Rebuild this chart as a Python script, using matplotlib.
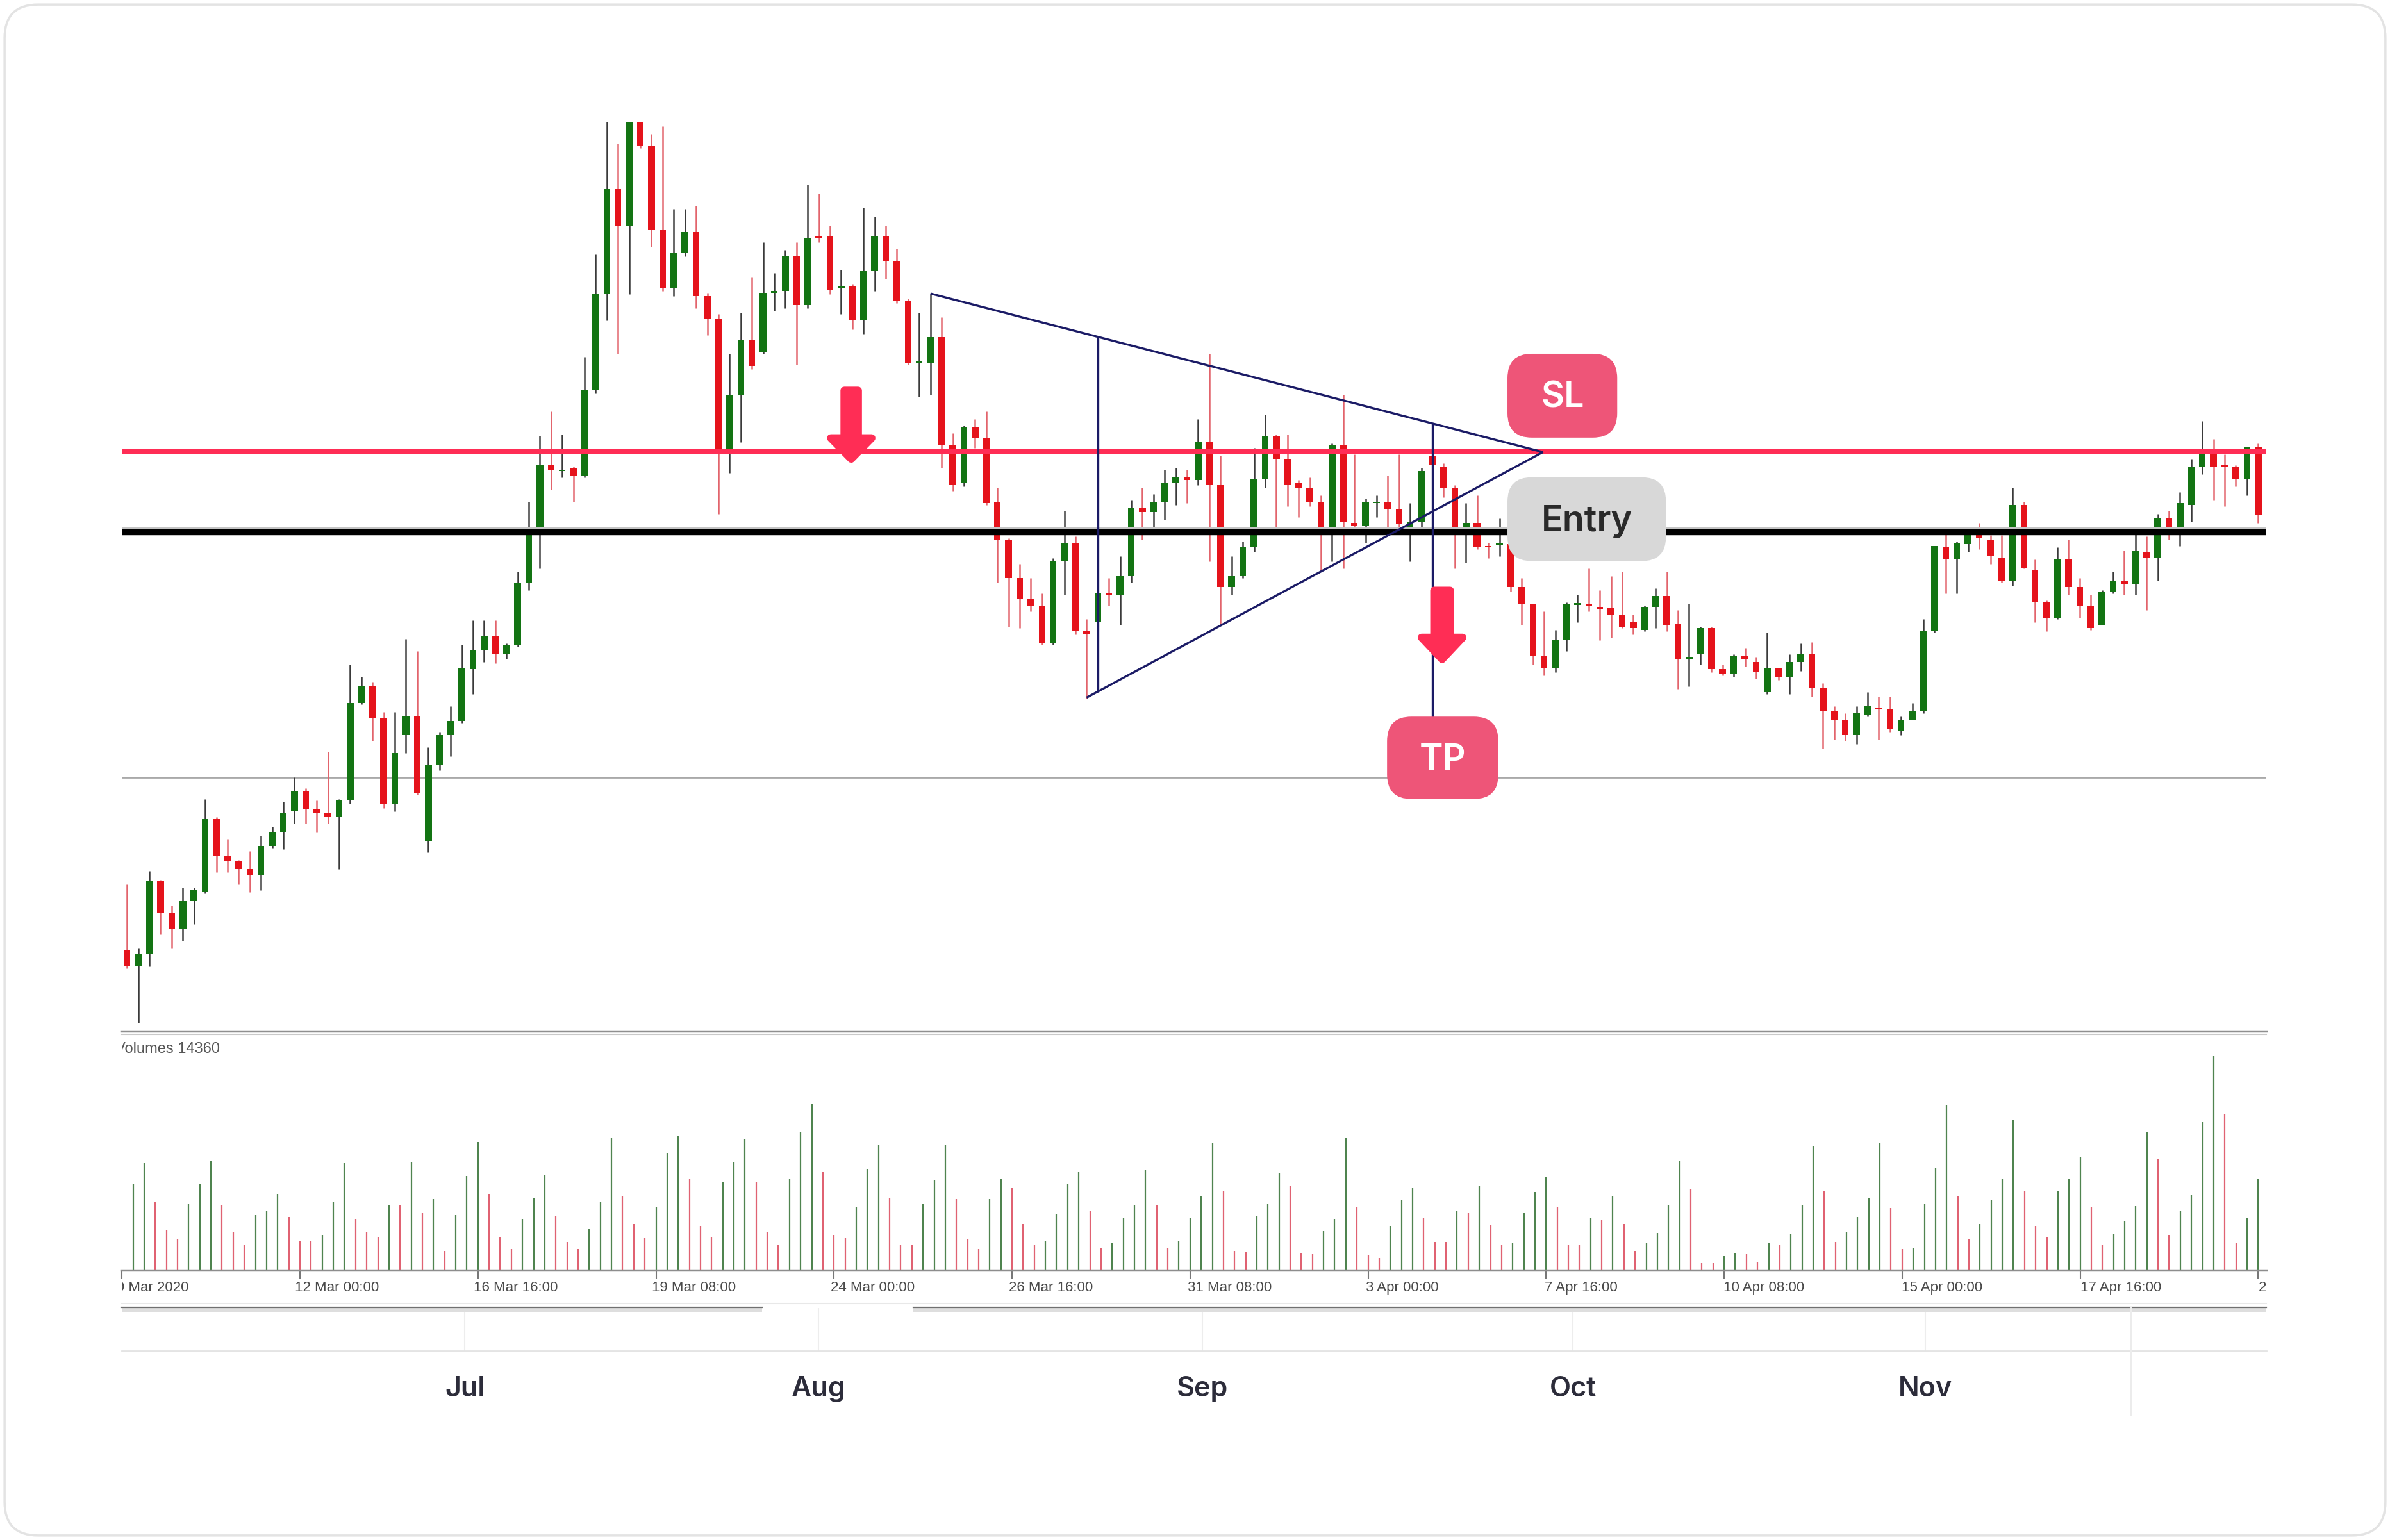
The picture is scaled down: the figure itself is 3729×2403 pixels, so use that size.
import numpy as np
import matplotlib.pyplot as plt
from matplotlib.patches import FancyBboxPatch, Polygon

plt.rcParams['font.family'] = ['Inter', 'DejaVu Sans']

# 4h candles, prices in points (chart has no price scale)
opens = [
    77, 66, 74, 122, 101, 91, 109, 115, 163, 139, 135, 130, 126, 145, 154, 168,
    181, 169, 167, 164, 175, 239, 250, 229, 173, 218, 230, 148, 198, 218, 227, 261,
    274, 283, 271, 277, 318, 353, 395, 391, 393, 388, 444, 507, 576, 552, 628, 604,
    549, 511, 534, 548, 506, 491, 404, 441, 477, 469, 508, 509, 532, 500, 545, 545,
    511, 512, 490, 522, 545, 529, 503, 462, 462, 479, 408, 383, 420, 413, 371, 346,
    321, 307, 303, 278, 332, 344, 286, 292, 311, 310, 322, 367, 364, 371, 383, 387,
    385, 410, 382, 315, 322, 341, 386, 414, 399, 383, 380, 371, 353, 408, 357, 355,
    370, 371, 366, 353, 358, 401, 394, 380, 353, 357, 342, 343, 343, 315, 304, 270,
    262, 280, 304, 304, 302, 301, 297, 292, 287, 302, 309, 291, 268, 271, 288, 261,
    258, 270, 266, 246, 262, 256, 266, 271, 249, 234, 228, 218, 231, 236, 235, 221,
    228, 234, 286, 341, 333, 343, 349, 346, 334, 319, 369, 326, 305, 295, 333, 315,
    303, 290, 312, 319, 317, 338, 334, 360, 353, 369, 394, 405, 395, 394, 386, 407,
]
highs = [
    120, 78, 129, 123, 106, 118, 118, 176, 164, 150, 136, 142, 152, 158, 174, 190,
    183, 175, 207, 176, 264, 256, 253, 233, 233, 281, 273, 210, 220, 237, 277, 293,
    293, 293, 278, 325, 371, 414, 430, 415, 394, 466, 533, 620, 606, 630, 630, 612,
    617, 563, 563, 565, 508, 494, 468, 495, 518, 541, 521, 536, 541, 579, 573, 552,
    523, 514, 564, 558, 552, 537, 504, 495, 507, 492, 416, 421, 425, 430, 380, 347,
    330, 321, 311, 334, 365, 348, 294, 312, 321, 335, 372, 380, 376, 392, 393, 392,
    425, 468, 401, 335, 345, 406, 428, 415, 415, 385, 387, 375, 409, 441, 402, 373,
    375, 388, 402, 370, 393, 401, 396, 382, 370, 375, 344, 360, 345, 321, 304, 299,
    287, 305, 310, 327, 313, 322, 325, 297, 303, 314, 325, 300, 304, 289, 289, 264,
    271, 275, 269, 285, 262, 271, 278, 279, 252, 237, 232, 237, 246, 243, 243, 230,
    239, 294, 342, 354, 345, 353, 357, 349, 349, 380, 371, 333, 306, 341, 346, 321,
    310, 313, 325, 339, 354, 348, 363, 365, 377, 399, 424, 412, 402, 395, 407, 409,
]
lows = [
    65, 29, 66, 87, 78, 83, 94, 114, 128, 128, 120, 115, 116, 144, 143, 160,
    160, 154, 160, 130, 173, 238, 214, 170, 168, 206, 179, 141, 195, 204, 226, 245,
    266, 265, 268, 276, 313, 327, 379, 387, 371, 387, 442, 490, 468, 507, 603, 538,
    509, 506, 532, 498, 480, 363, 390, 410, 458, 468, 496, 498, 461, 498, 541, 507,
    494, 484, 481, 509, 517, 501, 461, 440, 441, 393, 378, 381, 406, 369, 318, 289,
    288, 299, 277, 277, 310, 284, 242, 290, 303, 290, 318, 346, 352, 359, 369, 370,
    382, 332, 291, 310, 321, 338, 380, 353, 368, 361, 368, 325, 332, 327, 353, 344,
    361, 353, 353, 332, 353, 393, 374, 327, 331, 340, 334, 335, 312, 290, 264, 257,
    259, 273, 292, 299, 280, 282, 288, 284, 286, 288, 286, 248, 250, 264, 259, 257,
    256, 263, 255, 245, 254, 245, 260, 243, 209, 215, 214, 212, 230, 215, 220, 218,
    228, 232, 285, 311, 311, 338, 340, 330, 318, 316, 327, 292, 286, 294, 310, 295,
    287, 290, 311, 310, 310, 300, 319, 346, 342, 358, 389, 372, 368, 381, 375, 357,
]
closes = [
    66, 74, 122, 101, 91, 109, 116, 163, 139, 135, 130, 126, 145, 154, 167, 181,
    169, 167, 164, 175, 239, 250, 229, 173, 206, 230, 180, 198, 218, 227, 262, 274,
    283, 271, 277, 318, 353, 395, 392, 392, 388, 444, 507, 576, 552, 620, 604, 549,
    511, 534, 548, 506, 491, 404, 441, 477, 460, 508, 509, 532, 500, 544, 544, 510,
    512, 490, 522, 545, 529, 503, 462, 463, 479, 408, 382, 420, 413, 370, 346, 321,
    307, 303, 278, 332, 344, 286, 284, 311, 310, 322, 367, 364, 371, 383, 387, 385,
    410, 382, 315, 322, 341, 386, 414, 399, 382, 380, 371, 353, 408, 358, 355, 371,
    371, 366, 356, 358, 391, 395, 380, 353, 357, 341, 341, 344, 315, 304, 270, 262,
    280, 304, 304, 303, 301, 297, 289, 288, 302, 309, 290, 268, 269, 288, 261, 258,
    270, 268, 259, 262, 256, 266, 271, 249, 234, 228, 218, 232, 237, 235, 222, 228,
    234, 286, 342, 333, 344, 349, 347, 335, 319, 369, 327, 305, 295, 333, 315, 303,
    288, 312, 319, 317, 339, 334, 360, 353, 370, 394, 405, 394, 394, 386, 407, 362,
]
volumes = [
    5690, 7010, 4470, 2600, 2030, 4380, 5640, 7190, 4250, 2500, 1660, 3630, 3910, 5000, 3500, 1940,
    1940, 2310, 4430, 7010, 3350, 2500, 2180, 4280, 4250, 7100, 3720, 4660, 1240, 3630, 6160, 8410,
    5000, 2180, 1370, 3350, 4700, 6250, 3530, 1840, 1370, 2740, 4430, 8640, 4850, 3010, 2130, 4100,
    7700, 8790, 6010, 2880, 2180, 5790, 7100, 8600, 5790, 2500, 1660, 6010, 9070, 10890, 6440, 2310,
    2130, 4130, 6630, 8190, 4700, 1660, 1660, 4320, 5880, 8190, 4660, 2030, 1370, 4660, 5970, 5410,
    3010, 1660, 1940, 3680, 5690, 6440, 3910, 1470, 1810, 3380, 4250, 6540, 4250, 1470, 1880, 3380,
    4850, 8320, 5220, 1240, 1180, 3530, 4380, 6390, 5560, 1130, 1050, 2560, 3350, 8640, 4100, 1000,
    810, 2880, 4570, 5370, 3380, 1840, 1840, 3910, 3720, 5500, 2930, 1660, 1810, 3760, 5130, 6120,
    4100, 1660, 1660, 3380, 3310, 4850, 3010, 1240, 1750, 2440, 4250, 7140, 5320, 440, 440, 940,
    1130, 1090, 540, 1750, 1690, 2370, 4250, 8130, 5220, 1840, 2500, 3500, 4750, 8320, 4060, 1370,
    1470, 4320, 6690, 10820, 4850, 2030, 3010, 4570, 5970, 9820, 5220, 2880, 2180, 5220, 5970, 7440,
    4130, 1660, 2370, 3200, 4190, 9070, 7290, 2310, 3910, 4940, 9760, 14080, 10250, 1750, 3440, 5970,
]

sl_level = 404
entry_level = 351
support_level = 190

# triangle drawn on the chart (candle index, price)
tri_upper_x = [72.0, 126.9]
tri_upper_y = [507.5, 403.5]
tri_lower_x = [86.0, 126.9]
tri_lower_y = [242.5, 403.5]
tri_left_x, tri_left_y = [87.0, 87.0], [246, 479]
tri_right_x, tri_right_y = [117.0, 117.0], [200, 422]

time_ticks = [-1, 15, 31, 47, 63, 79, 95, 111, 127, 143, 159, 175, 191]
time_labels = ['9 Mar 2020', '12 Mar 00:00', '16 Mar 16:00', '19 Mar 08:00',
               '24 Mar 00:00', '26 Mar 16:00', '31 Mar 08:00', '3 Apr 00:00',
               '7 Apr 16:00', '10 Apr 08:00', '15 Apr 00:00', '17 Apr 16:00',
               '22 Apr 08:00']

months = ['Jul', 'Aug', 'Sep', 'Oct', 'Nov']
month_pos = [305, 537, 789, 1032, 1263]

GREEN = '#137413'
RED = '#e5131b'
PINK = '#ff2d55'
NAVY = '#1b1b66'

o = np.array(opens, float)
h = np.array(highs, float)
l = np.array(lows, float)
c = np.array(closes, float)
x = np.arange(len(o))
up = c >= o

W, H = 1568, 1010
fig = plt.figure(figsize=(37.29, 24.03), dpi=100)
fig.patch.set_facecolor('white')


def rect(x0, y0, x1, y1):
    return [x0 / W, 1 - y1 / H, (x1 - x0) / W, (y1 - y0) / H]


xlims = (-0.46, 191.75)

# ---- price panel
ax = fig.add_axes(rect(80, 80, 1487, 676))
ax.set_xlim(*xlims)
ax.set_ylim(24, 620)
ax.axis('off')

ax.vlines(x, l, h, colors=np.where(up, '#3a3a3a', '#e2646c'), lw=1.8, zorder=2)
body = np.abs(c - o)
hgt = np.maximum(body, 1.2)
bot = np.minimum(o, c) - (hgt - body) / 2
ax.bar(x, hgt, 0.6, bot, color=np.where(up, GREEN, RED), linewidth=0, zorder=3)

ax.axhline(support_level, color='#a9a9a9', lw=2, zorder=1)
ax.axhline(entry_level + 2.6, color='#c4c4c4', lw=1.5, zorder=4)
ax.axhline(entry_level, color='black', lw=6.8, zorder=5)
ax.axhline(sl_level, color=PINK, lw=6.2, zorder=5)

for xs, ys in [(tri_upper_x, tri_upper_y), (tri_lower_x, tri_lower_y),
               (tri_left_x, tri_left_y), (tri_right_x, tri_right_y)]:
    ax.plot(xs, ys, color=NAVY, lw=2.4, zorder=6, solid_capstyle='butt')


def down_arrow(cx, top, base, tip, ws, wh):
    pts = [(cx - ws, top), (cx + ws, top), (cx + ws, base), (cx + wh, base),
           (cx, tip), (cx - wh, base), (cx - ws, base)]
    ax.add_patch(Polygon(pts, closed=True, fc=PINK, ec=PINK, lw=8.6,
                         joinstyle='round', zorder=7))


down_arrow(64.9, 443.9, 412.7, 399.0, 0.62, 1.83)
down_arrow(117.86, 312.7, 281.9, 267.6, 0.72, 1.84)

# ---- volume panel
vol = np.array(volumes, float)
rising = np.r_[True, vol[1:] > vol[:-1]]
vax = fig.add_axes(rect(80, 680, 1487, 833))
vax.set_xlim(*xlims)
vax.set_ylim(0, 15300)
vax.vlines(x, 0, vol, colors=np.where(rising, '#4f844f', '#e06272'), lw=1.6)
for s in ['top', 'left', 'right']:
    vax.spines[s].set_visible(False)
vax.spines['bottom'].set_color('#8d8d8d')
vax.spines['bottom'].set_linewidth(2.5)
vax.set_yticks([])
vax.set_xticks(time_ticks)
vax.set_xticklabels([])
vax.tick_params(axis='x', length=9, width=1.5, color='#777777', direction='out')
vax.text(-0.003, 0.948, 'Volumes 14360', transform=vax.transAxes, ha='left',
         va='center', fontsize=17, color='#555555', family='Liberation Sans',
         clip_on=True)

# time labels under the volume panel
tax = fig.add_axes(rect(80, 834, 1487, 853))
tax.set_xlim(*xlims)
tax.set_ylim(0, 1)
tax.axis('off')
for pos, lab in zip(time_ticks, time_labels):
    tax.text(pos + 0.05, 0.45, lab, ha='left', va='center', fontsize=16,
             color='#4a4a4a', family='Liberation Sans', clip_on=True)

# month axis
mx = fig.add_axes(rect(80, 858, 1487, 886))
mx.set_xlim(80, 1487)
mx.set_ylim(0, 1)
for s in ['top', 'left', 'right']:
    mx.spines[s].set_visible(False)
mx.spines['bottom'].set_color('#e4e4e4')
mx.spines['bottom'].set_linewidth(2)
mx.set_yticks([])
mx.set_xticks(month_pos)
mx.set_xticklabels(months)
mx.tick_params(axis='x', length=0, pad=28, labelsize=31, labelcolor='#2c2c3a')
for t in mx.get_xticklabels():
    t.set_fontweight('semibold')
mx.grid(axis='x', color='#ededed', lw=1.5)

# ---- overlay (frame decoration and labels)
ov = fig.add_axes([0, 0, 1, 1])
ov.set_zorder(10)
ov.set_xlim(0, W)
ov.set_ylim(H, 0)
ov.axis('off')
ov.patch.set_visible(False)

ov.add_patch(FancyBboxPatch((3, 3), W - 6, H - 6, boxstyle='round,pad=0,rounding_size=22',
                            fc='none', ec='#e3e3e3', lw=2.5))
ov.plot([80, 1487], [676.3, 676.3], color='#8f8f8f', lw=2.5)
ov.plot([80, 1487], [678.4, 678.4], color='#c9c9c9', lw=1.5)
ov.plot([80, 1487], [855, 855], color='#e8e8e8', lw=1.5)
for a, b in [(80, 500), (599, 1487)]:
    ov.plot([a, b], [857.3, 857.3], color='#707070', lw=1.6)
    ov.fill_between([a, b], 857.8, 860.2, color='#dedede', lw=0)
ov.plot([1398, 1398], [858, 928], color='#ececec', lw=1.5)

boxes = [
    ('SL', 989, 232, 1061, 287, '#ee5578', 'white'),
    ('Entry', 989, 313, 1093, 368, '#d8d8d8', '#2a2a2a'),
    ('TP', 910, 470, 983, 524, '#ee5578', 'white'),
]
for txt, x0, y0, x1, y1, fc, tc in boxes:
    ov.add_patch(FancyBboxPatch((x0, y0), x1 - x0, y1 - y0,
                                boxstyle='round,pad=0,rounding_size=16',
                                fc=fc, ec='none'))
    ov.text((x0 + x1) / 2, (y0 + y1) / 2 + 1.5, txt, ha='center', va='center',
            fontsize=40, fontweight='semibold', color=tc)

fig.savefig('out.png', dpi=100, facecolor='white')
